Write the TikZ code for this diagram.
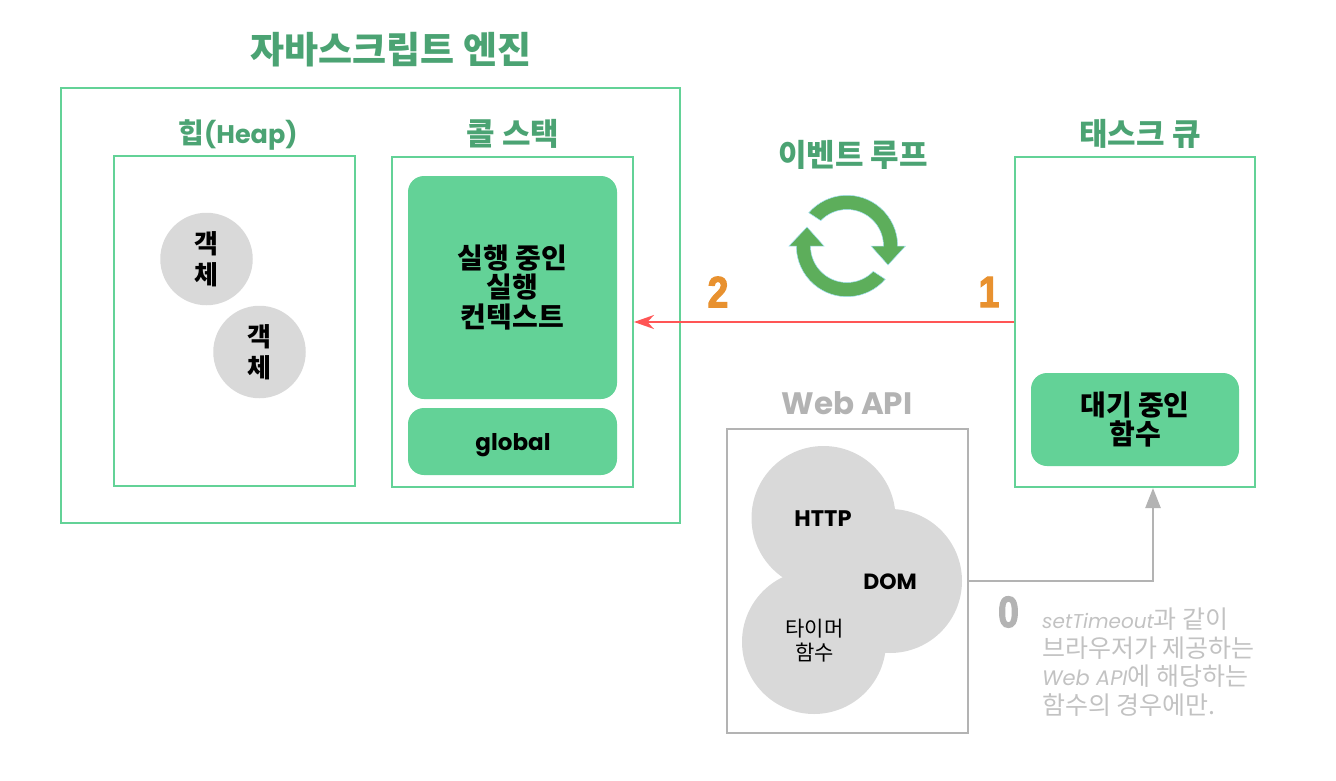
\documentclass[tikz,border=0pt]{standalone}
\usepackage{fontspec}
\usepackage{tikz}
\usetikzlibrary{arrows.meta}
\setmainfont{Poppins}
\newfontfamily\krfont{Noto Sans CJK KR}
\newfontfamily\numfont[FakeStretch=0.85,FakeBold=2.5]{Liberation Sans}
\definecolor{titlegreen}{HTML}{4BA373}
\definecolor{boxgreen}{HTML}{63D297}
\definecolor{icongreen}{HTML}{5DAE5B}
\definecolor{softgray}{HTML}{D9D9D9}
\definecolor{midgray}{HTML}{B3B3B3}
\definecolor{notegray}{HTML}{C2C2C2}
\definecolor{numorange}{HTML}{E8912F}
\definecolor{arrowred}{HTML}{FF5555}
\tikzset{
  framebox/.style={draw=boxgreen,line width=2pt,inner sep=0pt},
  fillbox/.style={fill=boxgreen,rounded corners=16pt,inner sep=0pt,align=center,
    font=\fontsize{28}{29.5}\selectfont\bfseries\krfont},
  blob/.style={circle,fill=softgray,inner sep=0pt,minimum size=144pt},
  objblob/.style={circle,fill=softgray,inner sep=0pt,minimum size=92.5pt,align=center,
    font=\fontsize{26}{31}\selectfont\bfseries\krfont},
  greentitle/.style={text=titlegreen,inner sep=0pt,font=\fontsize{31}{35}\selectfont\bfseries\krfont},
  bignum/.style={inner sep=0pt,font=\fontsize{44}{44}\selectfont\bfseries\numfont},
}
\begin{document}
\begin{tikzpicture}[x=1pt,y=-1pt]
  \useasboundingbox (0,0) rectangle (1336,781);

  % engine
  \node[greentitle,font=\fontsize{37}{40}\selectfont\bfseries\krfont] (enginetitle) at (391,50) {자바스크립트 엔진};
  \node[framebox,minimum width=619pt,minimum height=435pt] (engine) at (370.5,305.5) {};

  % heap
  \node[greentitle,font=\fontsize{25.5}{30}\selectfont\bfseries] (heaptitle) at (238,135) {{\krfont\fontsize{28}{30}\selectfont 힙}(Heap)};
  \node[framebox,minimum width=241pt,minimum height=330pt] (heap) at (234.5,321) {};
  \node[objblob] (obja) at (206.5,259) {객\\체};
  \node[objblob] (objb) at (259.5,352) {객\\체};

  % call stack
  \node[greentitle] (stacktitle) at (513,134) {콜 스택};
  \node[framebox,minimum width=241pt,minimum height=330pt] (stack) at (512.5,322) {};
  \node[fillbox,minimum width=209pt,minimum height=223pt] (running) at (512.5,287.5) {실행 중인\\실행\\컨텍스트};
  \node[fillbox,minimum width=209pt,minimum height=67pt] (globalbox) at (512.5,441.5) {};
  \node[inner sep=0pt,font=\fontsize{23}{27}\selectfont\bfseries] (global) at (513,445) {global};

  % task queue
  \node[greentitle] (queuetitle) at (1140,134) {태스크 큐};
  \node[framebox,minimum width=240pt,minimum height=330pt] (queue) at (1135,322) {};
  \node[fillbox,minimum width=208pt,minimum height=93pt] (waiting) at (1135,419.5) {대기 중인\\함수};

  % event loop
  \node[greentitle] (looptitle) at (853,155) {이벤트 루프};
  \begin{scope}[shift={(847,246)},x=1pt,y=1pt]
    \filldraw[icongreen,draw=cyan!35,line width=.5pt]
      (139:50.7) arc (139:0:50.7) -- (58.5,0) -- (41,-19) -- (24,0) -- (36.5,0) arc (0:136:36.5) -- cycle;
    \filldraw[icongreen,draw=cyan!35,line width=.5pt]
      (-41:50.7) arc (-41:-180:50.7) -- (-58,0) -- (-40,19) -- (-23,0) -- (-36.5,0) arc (-180:-44:36.5) -- cycle;
  \end{scope}

  % numbers
  \node[bignum,text=numorange] (numtwo) at (718,292) {2};
  \node[bignum,text=numorange] (numone) at (989,292) {1};
  \node[bignum,text=midgray] (numzero) at (1008.5,612) {0};

  % web api
  \node[text=midgray,inner sep=0pt,font=\fontsize{31}{35}\selectfont\bfseries] (webtitle) at (847,403) {Web API};
  \node[draw=midgray,line width=2pt,inner sep=0pt,minimum width=241pt,minimum height=304pt] (webapi) at (847.5,581) {};
  \node[blob] (httpblob) at (823.5,518) {};
  \node[blob] (domblob) at (890,581) {};
  \node[blob] (timerblob) at (814,642) {};
  \node[inner sep=0pt,font=\fontsize{22.5}{26}\selectfont\bfseries] (httplabel) at (823,519) {HTTP};
  \node[inner sep=0pt,font=\fontsize{22}{26}\selectfont\bfseries] (domlabel) at (890,582) {DOM};
  \node[inner sep=0pt,align=center,font=\fontsize{21}{24}\selectfont\krfont] (timerlabel) at (814.5,641) {타이머\\함수};

  % note
  \node[anchor=north west,inner sep=0pt,align=left,text=notegray,font=\fontsize{25}{28.5}\selectfont\krfont] (note) at (1042,608)
    {{\fontsize{20}{28.5}\rmfamily\itshape setTimeout}과 같이\\브라우저가 제공하는\\{\fontsize{21}{28.5}\rmfamily\itshape Web API}에 해당하는\\함수의 경우에만.};

  % connectors
  \coordinate (queuein) at (1153,488);
  \draw[arrowred,line width=2pt,-{Stealth[length=20pt,width=14pt]}] (queue.west) -- (stack.east);
  \draw[midgray,line width=2.4pt,-{Triangle[length=20pt,width=15pt]}] (webapi.east) -| (queuein);
\end{tikzpicture}
\end{document}
